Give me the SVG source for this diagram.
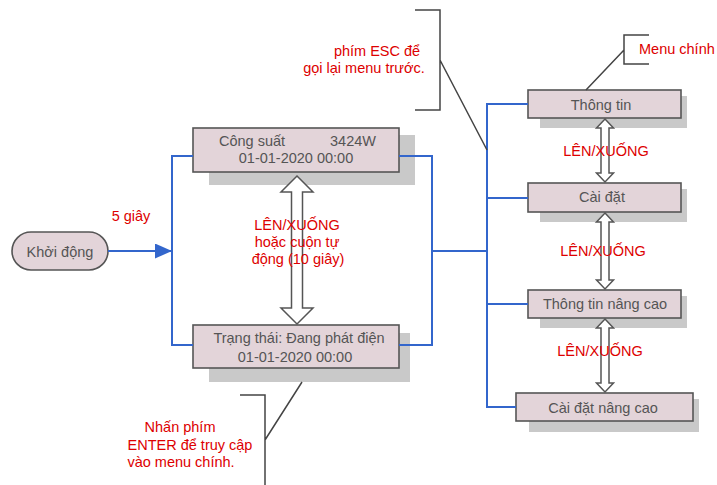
<svg xmlns="http://www.w3.org/2000/svg" width="717" height="485" viewBox="0 0 717 485">
<style>
text{font-family:"Liberation Sans",Arial,sans-serif;font-size:14.5px}
.t{fill:#555;text-anchor:middle}
.r{fill:#dd0000;text-anchor:middle}
.box{fill:#e3d4d9;stroke:#555;stroke-width:1.6}
.sh{fill:#c9c9c9}
.blue{fill:none;stroke:#3366cc;stroke-width:2}
.br{fill:none;stroke:#444;stroke-width:1.5}
.dbl{fill:#fff;stroke:#555;stroke-width:1.5;stroke-linejoin:miter}
</style>
<defs>
<marker id="ah" markerWidth="17" markerHeight="15" refX="17" refY="7.5" orient="auto" markerUnits="userSpaceOnUse">
<path d="M0,0 L17,7.5 L0,15 Z" fill="#3366cc"/>
</marker>
</defs>
<rect width="717" height="485" fill="#fff"/>
<g id="start">
<rect x="12" y="232" width="96" height="38" rx="19" class="box"/>
<text x="60" y="257" class="t">Khởi động</text>
</g>
<g id="power">
<rect x="209" y="135" width="206" height="50" class="sh"/>
<rect x="193" y="128" width="206" height="44" class="box"/>
<text x="252" y="146" class="t">Công suất</text>
<text x="353" y="146" class="t">3424W</text>
<text x="296" y="163" class="t">01-01-2020 00:00</text>
</g>
<g id="status">
<rect x="209" y="333" width="201" height="49" class="sh"/>
<rect x="193" y="325" width="206" height="43" class="box"/>
<text x="299" y="343" class="t">Trạng thái: Đang phát điện</text>
<text x="295" y="362" class="t">01-01-2020 00:00</text>
</g>
<g id="info">
<rect x="540" y="96" width="147" height="32" class="sh"/>
<rect x="528" y="90" width="153" height="28" class="box"/>
<text x="601" y="110" class="t">Thông tin</text>
</g>
<g id="settings">
<rect x="540" y="189" width="147" height="33" class="sh"/>
<rect x="528" y="183" width="153" height="29" class="box"/>
<text x="602" y="202" class="t">Cài đặt</text>
</g>
<g id="advinfo">
<rect x="540" y="296" width="147" height="32" class="sh"/>
<rect x="528" y="290" width="153" height="28" class="box"/>
<text x="605" y="309" class="t">Thông tin nâng cao</text>
</g>
<g id="advsettings">
<rect x="529" y="399" width="170" height="33" class="sh"/>
<rect x="516" y="393" width="177" height="28" class="box"/>
<text x="603" y="413" class="t">Cài đặt nâng cao</text>
</g>
<g id="connectors">
<path d="M108,251 H172" class="blue" marker-end="url(#ah)"/>
<path d="M193,156 H172 V345 H193" class="blue"/>
<path d="M399,156 H432 V345 H399" class="blue"/>
<path d="M432,251 H487" class="blue"/>
<path d="M528,104 H487 V407 H516" class="blue"/>
<path d="M487,198 H528 M487,304 H528" class="blue"/>
<polygon class="dbl" points="297,176 313,192 302.5,192 302.5,308 313,308 297,324 281,308 291.5,308 291.5,192 281,192"/>
<polygon class="dbl" points="605,119 613.5,128 609,128 609,173 613.5,173 605,182 596.5,173 601,173 601,128 596.5,128"/>
<polygon class="dbl" points="605,213 613.5,222 609,222 609,280 613.5,280 605,289 596.5,280 601,280 601,222 596.5,222"/>
<polygon class="dbl" points="605,319 613.5,328 609,328 609,383 613.5,383 605,392 596.5,383 601,383 601,328 596.5,328"/>
<path d="M415,10 H440 V110 H415 M440,60 L487,150" class="br"/>
<path d="M649,35 H624 V64 H649 M624,50 L586,90" class="br"/>
<path d="M240,395 H265 V485 M265,440 L302,382" class="br"/>
</g>
<g id="labels">
<text x="131" y="221" class="r">5 giây</text>
<text x="297" y="230" class="r">LÊN/XUỐNG</text>
<text x="297" y="247" class="r">hoặc cuộn tự</text>
<text x="298" y="264" class="r">động (10 giây)</text>
<text x="606" y="156" class="r">LÊN/XUỐNG</text>
<text x="603" y="256" class="r">LÊN/XUỐNG</text>
<text x="600" y="356" class="r">LÊN/XUỐNG</text>
<text x="377" y="56" class="r">phím ESC để</text>
<text x="364" y="73" class="r">gọi lại menu trước.</text>
<text x="639" y="54" class="r" style="text-anchor:start">Menu chính</text>
<text x="180" y="432" class="r">Nhấn phím</text>
<text x="190" y="450" class="r">ENTER để truy cập</text>
<text x="181" y="467" class="r">vào menu chính.</text>
</g>
</svg>
